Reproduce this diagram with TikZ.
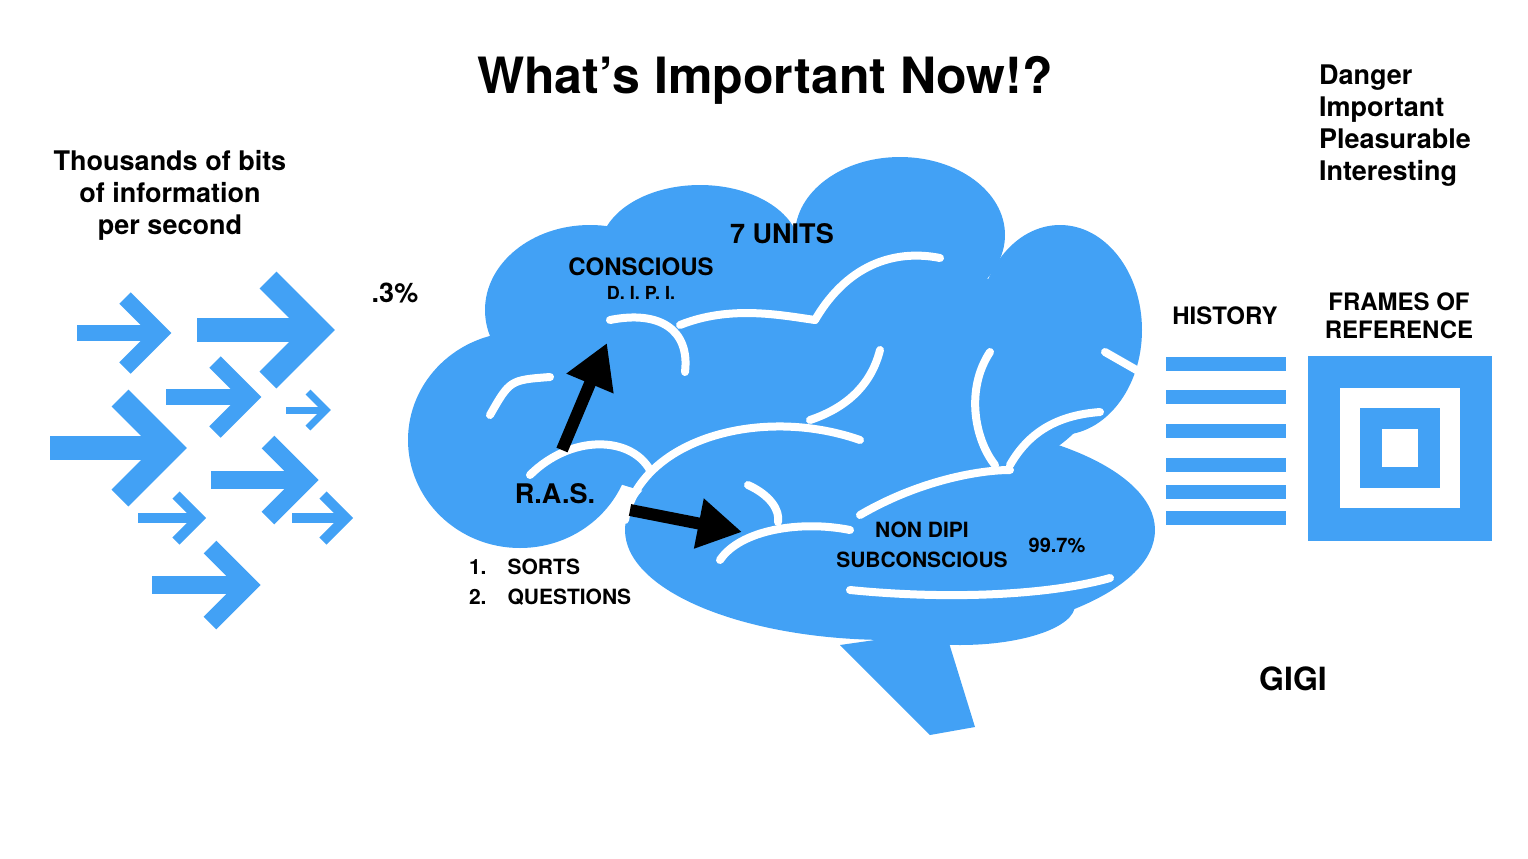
\documentclass[tikz,border=0pt]{standalone}
\usepackage{fontspec}
\setmainfont{TeX Gyre Heros}
\usetikzlibrary{arrows.meta}
\definecolor{brainblue}{RGB}{66,161,245}
\begin{document}
\begin{tikzpicture}[x=0.5pt,y=-0.5pt,
	inarrow/.style={draw=brainblue,miter limit=10},
	sulcus/.style={draw=white,line width=4pt,line cap=round},
	blob/.style={fill=brainblue},
	bigtxt/.style={font=\bfseries\fontsize{13.5}{16}\selectfont,align=center},
	lbl/.style={font=\bfseries\fontsize{12}{14}\selectfont,align=center},
	]
	\useasboundingbox (0,0) rectangle (1528,858);
	% incoming arrows: x, y, tip, head, width
	\foreach \xa/\ya/\xb/\hh/\ww in {77/333/160/35/16, 197/330/318/50/24, 166/397/250/35/16,
		286/410/326/18/7, 50/448/170/50/24, 211/480/306/38/18, 138/518/199/23/10,
		292/518/346/23/10, 152/585/248/38/18}{
		\draw[inarrow,line width=\ww*0.5pt] (\xa,\ya) -- (\xb-4,\ya);
		\draw[inarrow,line width=\ww*0.5pt] (\xb-\hh,\ya-\hh) -- (\xb,\ya) -- (\xb-\hh,\ya+\hh);
	}
	% brain
	\fill[blob] (590,310) ellipse (105 and 85);
	\fill[blob] (700,250) ellipse (100 and 65);
	\fill[blob] (900,235) ellipse (105 and 78);
	\fill[blob] (1060,330) ellipse (82 and 105);
	\fill[blob] (520,440) ellipse (112 and 108);
	\fill[blob] (800,380) ellipse (300 and 130);
	\fill[blob] (890,530) ellipse (265 and 110);
	\fill[blob] (960,605) ellipse (115 and 40);
	\fill[blob] (840,645) -- (930,735) -- (975,727) -- (945,630) -- cycle;
	% sulci
	\draw[sulcus] (490,415) .. controls (510,380) .. (550,377);
	\draw[sulcus] (610,320) .. controls (660,310) and (690,330) .. (685,372);
	\draw[sulcus] (680,325) .. controls (730,305) and (780,315) .. (815,320);
	\draw[sulcus] (815,320) .. controls (850,260) and (900,250) .. (940,258);
	\draw[sulcus] (880,350) .. controls (870,390) and (840,410) .. (810,420);
	\draw[sulcus] (530,475) .. controls (570,435) and (630,435) .. (650,470);
	\draw[sulcus] (625,520) .. controls (640,440) and (760,405) .. (860,440);
	\draw[sulcus] (720,560) .. controls (740,530) and (800,520) .. (850,530);
	\draw[sulcus] (748,485) .. controls (770,495) and (780,510) .. (778,522);
	\draw[sulcus] (990,352) .. controls (965,390) and (975,440) .. (995,465);
	\draw[sulcus] (1010,465) .. controls (1030,430) and (1060,415) .. (1100,412);
	\draw[sulcus] (1105,352) -- (1140,372);
	\draw[sulcus] (860,515) .. controls (920,480) and (980,470) .. (1010,470);
	\draw[sulcus] (850,590) .. controls (950,600) and (1050,595) .. (1110,578);
	% R.A.S. arrows
	\coordinate (rasup) at (562,450);
	\coordinate (dipi) at (607,343);
	\coordinate (rasout) at (630,510);
	\coordinate (nondipi) at (742,532);
	\draw[line width=6pt,-{Triangle[length=22pt,width=24pt]}] (rasup) -- (dipi);
	\draw[line width=6pt,-{Triangle[length=22pt,width=24pt]}] (rasout) -- (nondipi);
	% history bars
	\foreach \yb in {364,397,431,465,492,518}
		\fill[brainblue] (1166,\yb-7) rectangle (1286,\yb+7);
	% frames of reference
	\fill[brainblue] (1308,356) rectangle (1492,541);
	\fill[white] (1340,388) rectangle (1460,508);
	\fill[brainblue] (1360,408) rectangle (1440,488);
	\fill[white] (1382,429) rectangle (1418,467);
	% texts
	\node[font=\bfseries\fontsize{25}{30}\selectfont] (title) at (765,80) {What’s Important Now!?};
	\node[bigtxt] (bits) at (170,195) {Thousands of bits\\of information\\per second};
	\node[bigtxt] (pct) at (395,293) {.3\%};
	\node[bigtxt,align=left,anchor=north west] (values) at (1312,58) {Danger\\Important\\Pleasurable\\Interesting};
	\node[bigtxt] (units) at (782,234) {7 UNITS};
	\node[lbl] (conscious) at (641,267) {CONSCIOUS};
	\node[font=\bfseries\fontsize{9}{11}\selectfont] (dipilbl) at (641,293) {D. I. P. I.};
	\node[bigtxt] (ras) at (555,494) {R.A.S.};
	\node[font=\bfseries\fontsize{10.5}{15}\selectfont,align=left,anchor=north west] (steps) at (462,552) {1.\hspace{1em}SORTS\\2.\hspace{1em}QUESTIONS};
	\node[font=\bfseries\fontsize{10.5}{15}\selectfont,align=center] (sub) at (922,545) {NON DIPI\\SUBCONSCIOUS};
	\node[font=\bfseries\fontsize{10}{12}\selectfont] (pct2) at (1057,545) {99.7\%};
	\node[lbl] (history) at (1225,316) {HISTORY};
	\node[lbl] (frames) at (1399,316) {FRAMES OF\\REFERENCE};
	\node[font=\bfseries\fontsize{16}{19}\selectfont] (gigi) at (1293,679) {GIGI};
\end{tikzpicture}
\end{document}
